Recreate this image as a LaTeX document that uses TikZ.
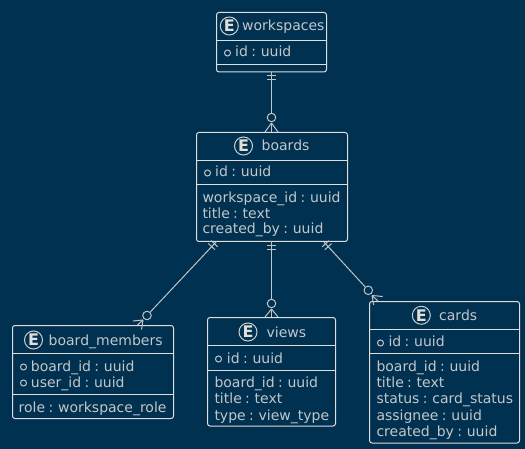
\documentclass[tikz,border=0pt]{standalone}
\usepackage{fontspec}
\setmainfont[WordSpace=0.75]{DejaVu Sans}
\usetikzlibrary{calc}
\definecolor{bgc}{HTML}{003150}
\definecolor{linec}{HTML}{E2DFDB}
\definecolor{textc}{HTML}{C2C7CA}
\tikzset{
  box/.style={draw=linec,line width=1pt,rounded corners=2.5pt,inner sep=0pt,outer sep=0pt},
  rulel/.style={draw=linec,line width=1pt},
  conn/.style={draw=linec!85!bgc,line width=1pt},
  lab/.style={anchor=base west,inner sep=0pt,text=textc,font=\fontsize{14}{14}\selectfont},
  icon/.style={circle,draw=linec!90!bgc,line width=1pt,minimum size=18pt,inner sep=0pt,text=linec,font=\fontsize{16}{16}\bfseries\selectfont},
  bull/.style={circle,draw=textc,line width=1pt,minimum size=6pt,inner sep=0pt},
  ring/.style={circle,draw=linec!85!bgc,line width=1pt,minimum size=8.5pt,inner sep=0pt},
}
\newcommand{\rowbar}[3]{\draw[conn] ($(#1)!#3!(#2)!4.5pt!90:(#2)$) -- ($(#1)!#3!(#2)!-4.5pt!90:(#2)$);}
\newcommand{\crowf}[4]{\draw[conn] (#1) -- (#2); \draw[conn] (#1) -- (#3); \draw[conn] (#1) -- (#4);}
\begin{document}
\begin{tikzpicture}[x=1pt,y=-1pt]
\useasboundingbox (0,0) rectangle (525,449);
\fill[bgc] (0,0) rectangle (525,449);
% boxes
\node[box,minimum width=110pt,minimum height=59.5pt] (workspaces) at (271.5,42.25) {};
\node[box,minimum width=151pt,minimum height=109pt] (boards) at (272,187) {};
\node[box,minimum width=161pt,minimum height=93pt] (members) at (93,372) {};
\node[box,minimum width=128pt,minimum height=108.5pt] (views) at (271.5,371.75) {};
\node[box,minimum width=150pt,minimum height=141.5pt] (cards) at (444.5,372.25) {};
% dividers
\draw[rulel] (workspaces.west |- 0,40.5) -- (workspaces.east |- 0,40.5);
\draw[rulel] (workspaces.west |- 0,64.5) -- (workspaces.east |- 0,64.5);
\draw[rulel] (boards.west |- 0,160.5) -- (boards.east |- 0,160.5);
\draw[rulel] (boards.west |- 0,184.5) -- (boards.east |- 0,184.5);
\draw[rulel] (members.west |- 0,353.5) -- (members.east |- 0,353.5);
\draw[rulel] (members.west |- 0,394.5) -- (members.east |- 0,394.5);
\draw[rulel] (views.west |- 0,345.5) -- (views.east |- 0,345.5);
\draw[rulel] (views.west |- 0,370.5) -- (views.east |- 0,370.5);
\draw[rulel] (cards.west |- 0,329.5) -- (cards.east |- 0,329.5);
\draw[rulel] (cards.west |- 0,353.5) -- (cards.east |- 0,353.5);
% icons
\node[icon] (iw) at (229.3,26) {E};
\node[icon] (ib) at (243.5,146) {E};
\node[icon] (im) at (33.5,340) {E};
\node[icon] (iv) at (248,332) {E};
\node[icon] (ic) at (421.3,315.3) {E};
% titles
\node[lab] (tw) at (242,31) {workspaces};
\node[lab] (tb) at (261.5,151) {boards};
\node[lab] (tm) at (48.5,345) {board\_members};
\node[lab] (tv) at (266.5,337) {views};
\node[lab] (tc) at (439,320) {cards};
% bullets
\node[bull] (bw) at (227.5,53) {};
\node[bull] (bb) at (207.5,173) {};
\node[bull] (bm1) at (23.5,367) {};
\node[bull] (bm2) at (23.5,383) {};
\node[bull] (bv) at (218.5,359) {};
\node[bull] (bc) at (380.5,343) {};
% fields
\node[lab] (w1) at (235,57) {id : uuid};
\node[lab] (b1) at (215,177) {id : uuid};
\node[lab] (b2) at (202.3,202.5) {workspace\_id : uuid};
\node[lab] (b3) at (202.3,218.5) {title : text};
\node[lab] (b4) at (202.3,234) {created\_by : uuid};
\node[lab] (m1) at (30.7,371) {board\_id : uuid};
\node[lab] (m2) at (30.7,387) {user\_id : uuid};
\node[lab] (m3) at (18.5,412) {role : workspace\_role};
\node[lab] (v1) at (226.7,363) {id : uuid};
\node[lab] (v2) at (214.3,387) {board\_id : uuid};
\node[lab] (v3) at (214.3,403) {title : text};
\node[lab] (v4) at (214.3,420) {type : view\_type};
\node[lab] (c1) at (388.3,346) {id : uuid};
\node[lab] (c2) at (376.3,371.3) {board\_id : uuid};
\node[lab] (c3) at (376.3,387.3) {title : text};
\node[lab] (c4) at (376.3,403.3) {status : card\_status};
\node[lab] (c5) at (376.3,420) {assignee : uuid};
\node[lab] (c6) at (376.3,436) {created\_by : uuid};
% connectors
\coordinate (a1) at (271.5,72);
\coordinate (a2) at (271.5,241.5);
\coordinate (a3) at (216.5,241.5);
\coordinate (a4) at (323.5,241.5);
\node[ring] (r1) at (271.5,117.5) {};
\node[ring] (r2) at (271.5,303.5) {};
\node[ring] (r3) at (147,315.5) {};
\node[ring] (r4) at (368.3,290.3) {};
\draw[conn] (a1) -- (r1);
\draw[conn] (a2) -- (r2);
\draw[conn] (a3) -- (r3);
\draw[conn] (a4) -- (r4);
\rowbar{a1}{r1}{4pt}
\rowbar{a1}{r1}{8pt}
\rowbar{a2}{r2}{4pt}
\rowbar{a2}{r2}{8pt}
\rowbar{a3}{r3}{3pt}
\rowbar{a3}{r3}{7pt}
\rowbar{a4}{r4}{3pt}
\rowbar{a4}{r4}{7pt}
\coordinate (k1) at (271.5,123); \coordinate (k1a) at (265,132); \coordinate (k1b) at (271.5,132); \coordinate (k1c) at (278,132);
\crowf{k1}{k1a}{k1b}{k1c}
\coordinate (k2) at (271.5,309); \coordinate (k2a) at (265,317); \coordinate (k2b) at (271.5,317); \coordinate (k2c) at (278,317);
\crowf{k2}{k2a}{k2b}{k2c}
\coordinate (k3) at (143,320); \coordinate (k3a) at (133,321); \coordinate (k3b) at (137.5,325); \coordinate (k3c) at (141.5,329.5);
\crowf{k3}{k3a}{k3b}{k3c}
\coordinate (k4) at (372,295.5); \coordinate (k4a) at (382.7,296.5); \coordinate (k4b) at (378,301); \coordinate (k4c) at (373.7,305);
\crowf{k4}{k4a}{k4b}{k4c}
\end{tikzpicture}
\end{document}
